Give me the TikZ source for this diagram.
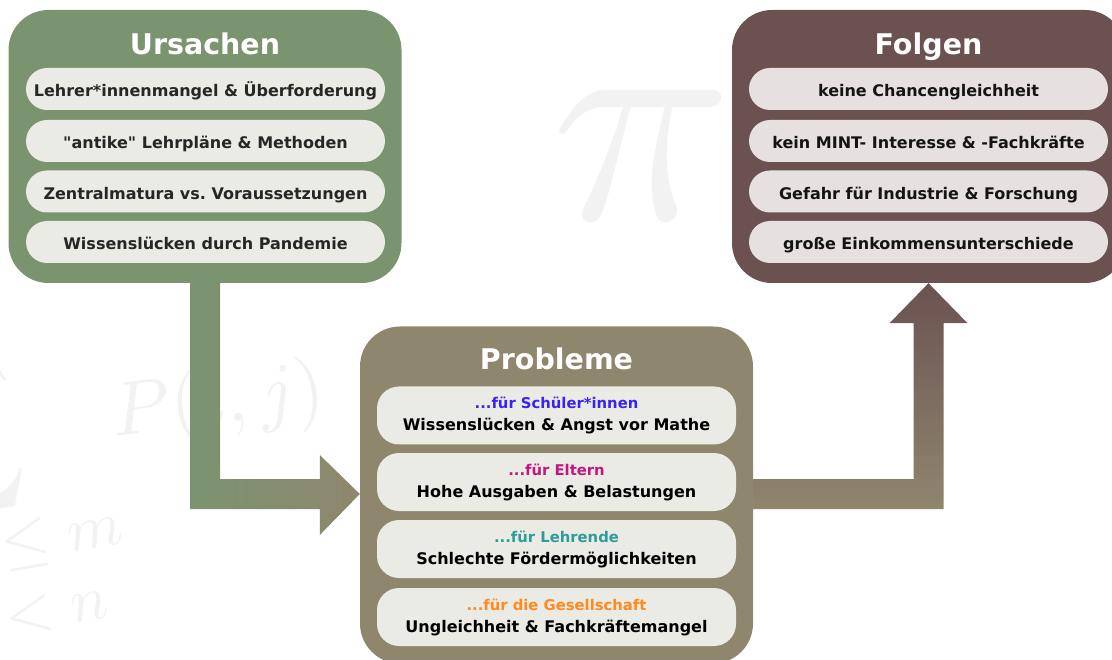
\documentclass[tikz,border=0pt]{standalone}
\usepackage{fontspec}
\setmainfont{DejaVu Sans}[Ligatures=TeXOff]
\usetikzlibrary{calc}
\definecolor{ugreen}{HTML}{7B9470}
\definecolor{ptan}{HTML}{8F866E}
\definecolor{fbrown}{HTML}{6B5251}
\definecolor{pillA}{HTML}{EBEBE5}
\definecolor{pillF}{HTML}{E6E1E0}
\definecolor{cblue}{HTML}{3A22F5}
\definecolor{cmag}{HTML}{C2187E}
\definecolor{cteal}{HTML}{2E9C98}
\definecolor{corange}{HTML}{FF8A1E}
\definecolor{wm}{HTML}{F2F2F2}
\begin{document}
\begin{tikzpicture}[x=1pt,y=-1pt,
  bigbox/.style={rounded corners=40pt, minimum width=393pt, inner sep=0pt, draw=none},
  titletxt/.style={anchor=base, text=white, font=\fontsize{28.5}{30}\selectfont\bfseries, inner sep=0pt},
  pill/.style={rounded corners=21pt, minimum width=359pt, minimum height=42pt, inner sep=0pt,
    fill=pillA, text=black!85, font=\fontsize{16}{19}\selectfont\bfseries, text height=15.5pt, text depth=0pt},
  ppill/.style={rounded corners=22pt, minimum width=359pt, minimum height=58pt, inner sep=0pt, fill=pillA},
  subtxt/.style={anchor=base, inner sep=0pt, font=\fontsize{14.8}{17}\selectfont\bfseries},
  maintxt/.style={anchor=base, inner sep=0pt, text=black, font=\fontsize{16}{19}\selectfont\bfseries},
  wmark/.style={text=wm, inner sep=0pt}
]
\useasboundingbox (0,0) rectangle (1112,660);
\clip (0,0) rectangle (1112,660);
\fill[white] (0,0) rectangle (1112,660);

% faint watermark formulas
\node[wmark, scale=30] (wpi) at (642,155) {$\pi$};
\node[wmark, scale=7.6, rotate=7, anchor=base west] (wp) at (113,437) {$P(i,j)$};
\node[wmark, scale=11.2, rotate=10, anchor=south east] (wsum) at (40,516) {$\displaystyle\sum$};
\node[wmark, scale=6.3, rotate=10] (wle) at (62,538) {$\le m$};
\node[wmark, scale=6.3, rotate=10] (wlt) at (34,616) {$j<n$};

% big boxes
\node[bigbox, fill=ugreen, minimum height=273pt] (urs) at (205,146.5) {};
\node[bigbox, fill=fbrown, minimum height=273pt] (fol) at (928.5,146.5) {};
\node[bigbox, fill=ptan, minimum height=337pt] (prob) at (556.5,495) {};

% titles
\node[titletxt] (tu) at (205,55) {Ursachen};
\node[titletxt] (tf) at (928.5,55) {Folgen};
\node[titletxt] (tp) at (556.5,370) {Probleme};

% Ursachen pills
\node[pill] (u1) at (205.5,89) {Lehrer*innenmangel \& Überforderung};
\node[pill] (u2) at (205.5,141) {"antike" Lehrpläne \& Methoden};
\node[pill] (u3) at (205.5,191.5) {Zentralmatura vs.\ Voraussetzungen};
\node[pill] (u4) at (205.5,242) {Wissenslücken durch Pandemie};

% Folgen pills
\node[pill, fill=pillF, text=black!92] (f1) at (928.5,89) {keine Chancengleichheit};
\node[pill, fill=pillF, text=black!92] (f2) at (928.5,141) {kein MINT- Interesse \& -Fachkräfte};
\node[pill, fill=pillF, text=black!92] (f3) at (928.5,191.5) {Gefahr für Industrie \& Forschung};
\node[pill, fill=pillF, text=black!92] (f4) at (928.5,242) {große Einkommensunterschiede};

% Probleme pills
\node[ppill] (p1) at (556.5,415.5) {};
\node[ppill] (p2) at (556.5,482) {};
\node[ppill] (p3) at (556.5,549) {};
\node[ppill] (p4) at (556.5,617) {};
\node[subtxt, text=cblue] (s1) at ($(p1.center)+(0,-6.5)$) {...für Schüler*innen};
\node[maintxt] (m1) at ($(p1.center)+(0,15)$) {Wissenslücken \& Angst vor Mathe};
\node[subtxt, text=cmag] (s2) at ($(p2.center)+(0,-6.5)$) {...für Eltern};
\node[maintxt] (m2) at ($(p2.center)+(0,15)$) {Hohe Ausgaben \& Belastungen};
\node[subtxt, text=cteal] (s3) at ($(p3.center)+(0,-6.5)$) {...für Lehrende};
\node[maintxt] (m3) at ($(p3.center)+(0,15)$) {Schlechte Fördermöglichkeiten};
\node[subtxt, text=corange] (s4) at ($(p4.center)+(0,-6.5)$) {...für die Gesellschaft};
\node[maintxt] (m4) at ($(p4.center)+(0,15)$) {Ungleichheit \& Fachkräftemangel};

% block arrow Ursachen -> Probleme
\coordinate (lt) at ($(prob.west)+(0,-1)$);
\shade[left color=ugreen, right color=ptan]
  ($(urs.south)+(-15,0)$) -- ($(urs.south |- lt)+(-15,15)$) -- ($(lt)+(-40,15)$)
  -- ($(lt)+(-40,41)$) -- (lt) -- ($(lt)+(-40,-39)$) -- ($(lt)+(-40,-15)$)
  -- ($(urs.south |- lt)+(15,-15)$) -- ($(urs.south)+(15,0)$) -- cycle;

% block arrow Probleme -> Folgen
\coordinate (rt) at (fol.south);
\coordinate (rs) at ($(prob.east)+(0,-1)$);
\shade[bottom color=ptan, top color=fbrown]
  ($(rs)+(0,-15)$) -- ($(rt |- rs)+(-15,-15)$) -- ($(rt)+(-15,40)$) -- ($(rt)+(-39,40)$)
  -- (rt) -- ($(rt)+(39,40)$) -- ($(rt)+(15,40)$) -- ($(rt |- rs)+(15,15)$)
  -- ($(rs)+(0,15)$) -- cycle;
\end{tikzpicture}
\end{document}
